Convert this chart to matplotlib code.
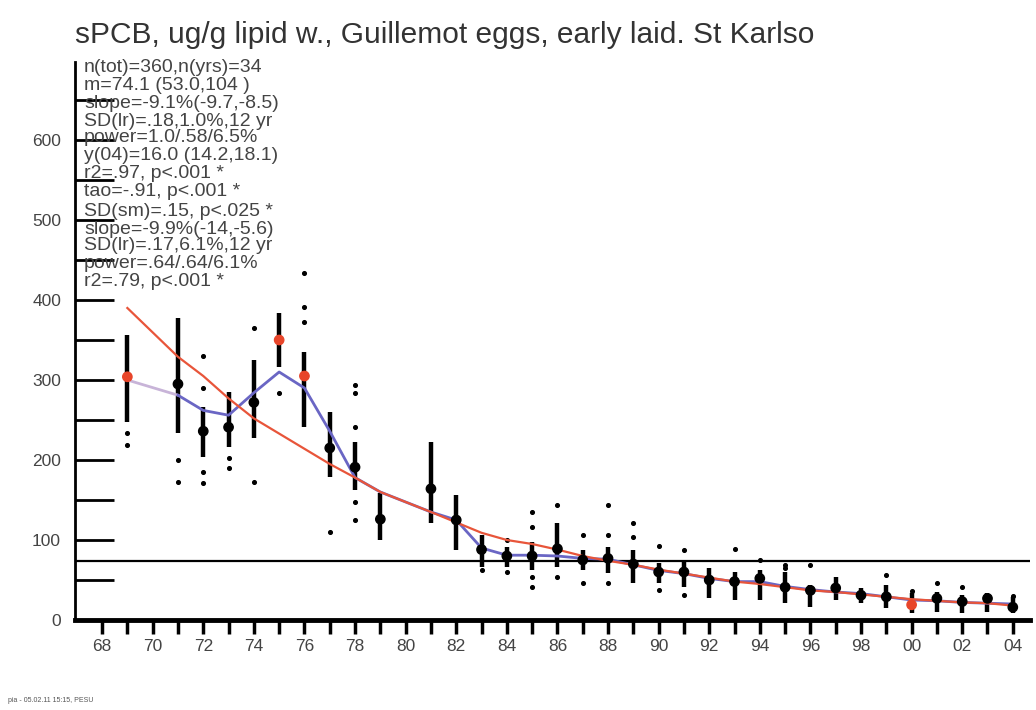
import numpy as np
import matplotlib
matplotlib.use("Agg")
import matplotlib.pyplot as plt

plt.rcParams['font.family'] = ['Liberation Sans', 'DejaVu Sans']

# years with data
years = [1969, 1971, 1972, 1973, 1974, 1975, 1976, 1977, 1978, 1979,
         1981, 1982, 1983, 1984, 1985, 1986, 1987, 1988, 1989, 1990,
         1991, 1992, 1993, 1994, 1995, 1996, 1997, 1998, 1999, 2000,
         2001, 2002, 2003, 2004]

# yearly means (geometric)
means = [304, 295, 236, 241, 272, 350, 305, 215, 191, 126,
         164, 125, 88, 80, 80, 89, 75, 77, 70, 60,
         60, 50, 48, 52, 41, 37, 40, 31, 29, 19,
         27, 23, 27, 16]

# confidence bar limits
bar_lo = [248, 234, 204, 216, 227, 316, 241, 179, 162, 100,
          121, 88, 66, 66, 62, 66, 62, 59, 46, 46,
          41, 27, 25, 25, 21, 16, 25, 21, 15, 9,
          10, 9, 10, 9]
bar_hi = [356, 378, 266, 285, 325, 384, 335, 260, 222, 159,
          222, 156, 106, 91, 97, 121, 88, 91, 88, 71,
          75, 65, 60, 62, 60, 44, 54, 40, 44, 34,
          35, 31, 34, 29]

# years whose mean is marked red
red_years = [1969, 1975, 1976, 2000]

# smoother (blue) and log-linear fit (red), read at each data year
smooth = [300, 281, 262, 256, 284, 310, 290, 236, 178, 160,
          135, 125, 90, 81, 81, 80, 77, 76, 69, 62,
          58, 52, 48, 48, 42, 38, 35, 33, 29, 25,
          24, 22, 21, 20]
fit = [390, 329, 305, 277, 252, 233, 214, 195, 178, 160,
       135, 122, 109, 100, 95, 88, 80, 74, 69, 63,
       58, 53, 48, 45, 41, 37, 35, 32, 29, 26,
       24, 22, 21, 18]

# single eggs outside the bars
pt_year = [1969, 1969, 1971, 1971, 1972, 1972, 1972, 1972, 1973, 1973,
           1974, 1974, 1975, 1976, 1976, 1976, 1977, 1978, 1978, 1978,
           1978, 1978, 1983, 1984, 1984, 1985, 1985, 1985, 1985, 1986,
           1986, 1987, 1987, 1988, 1988, 1988, 1989, 1989, 1990, 1990,
           1991, 1991, 1993, 1994, 1995, 1995, 1996, 1999, 2000, 2001,
           2002, 2004]
pt_val = [234, 219, 200, 172, 330, 290, 185, 171, 202, 190,
          365, 172, 284, 434, 391, 372, 110, 294, 284, 241,
          147, 125, 62, 100, 60, 135, 116, 54, 41, 144,
          54, 106, 46, 144, 106, 46, 121, 104, 93, 37,
          88, 31, 89, 75, 69, 65, 69, 56, 36, 46,
          41, 30]

m_level = 74.1

stats = ["n(tot)=360,n(yrs)=34",
         "m=74.1 (53.0,104 )",
         "slope=-9.1%(-9.7,-8.5)",
         "SD(lr)=.18,1.0%,12 yr",
         "power=1.0/.58/6.5%",
         "y(04)=16.0 (14.2,18.1)",
         "r2=.97, p<.001 *",
         "tao=-.91, p<.001 *",
         "SD(sm)=.15, p<.025 *",
         "slope=-9.9%(-14,-5.6)",
         "SD(lr)=.17,6.1%,12 yr",
         "power=.64/.64/6.1%",
         "r2=.79, p<.001 *"]
stat_y = [68, 86, 103, 121, 138, 156, 174, 191, 211, 229, 246, 264, 282]

fig = plt.figure(figsize=(10.36, 7.10), dpi=100)
ax = fig.add_axes([75 / 1036, 90 / 710, 955 / 1036, 558 / 710])

# mean level line
ax.axhline(m_level, color='black', lw=1.6, zorder=1)

# bars
ax.vlines(years, bar_lo, bar_hi, color='black', lw=3.2, zorder=3)
ax.scatter(pt_year, pt_val, s=7, color='black', marker='o', zorder=3)

# fitted lines
ax.plot(years[:2], smooth[:2], color='#c8b4d8', lw=2, zorder=4)
ax.plot(years[1:], smooth[1:], color='#6a66c4', lw=2, zorder=4)
ax.plot(years, fit, color='#e8553a', lw=1.6, zorder=4)

# means
cols = ['#e8452a' if y in red_years else 'black' for y in years]
ax.scatter(years, means, s=45, c=cols, zorder=5)

ax.set_xlim(1966.93, 2004.68)
ax.set_ylim(0, 697.5)

ax.spines['top'].set_visible(False)
ax.spines['right'].set_visible(False)
ax.spines['left'].set_linewidth(2)
ax.spines['bottom'].set_linewidth(3.5)

all_years = list(range(1968, 2005))
ax.set_xticks(all_years)
ax.set_xticklabels([f"{y % 100:02d}" if y % 2 == 0 else "" for y in all_years])
ax.tick_params(axis='x', direction='out', length=10, width=2.5, pad=4,
               labelsize=12.5, labelcolor='#444444')

ax.set_yticks([0, 100, 200, 300, 400, 500, 600])
ax.set_yticks([50, 150, 250, 350, 450, 550, 650], minor=True)
ax.tick_params(axis='y', which='both', direction='in', length=28, width=2,
               pad=10, labelsize=12.5, labelcolor='#444444')

fig.text(75 / 1036, 1 - 35 / 710, "sPCB, ug/g lipid w., Guillemot eggs, early laid. St Karlso",
         fontsize=21.5, color='#333333', va='center', ha='left')

for s, yp in zip(stats, stat_y):
    fig.text(84 / 1036, 1 - yp / 710, s, fontsize=14, color='#444444',
             va='center', ha='left')

fig.text(8 / 1036, 1 - 700 / 710, "pia - 05.02.11 15:15, PESU", fontsize=5,
         color='#555555', va='center', ha='left')

fig.savefig("out.png", dpi=100)
